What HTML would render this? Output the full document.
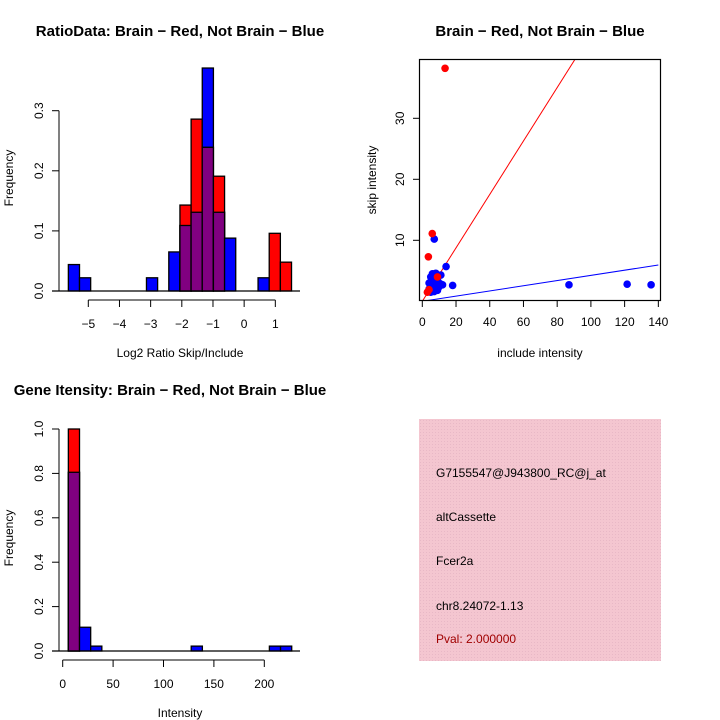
<!DOCTYPE html>
<html><head><meta charset="utf-8"><style>
body{margin:0;background:#fff}
svg{display:block;font-family:"Liberation Sans",sans-serif}
</style></head><body>
<svg id="c" width="720" height="720" viewBox="0 0 720 720">
<defs>
<pattern id="hatch" width="3" height="3" patternUnits="userSpaceOnUse">
<rect width="3" height="3" fill="#f4c6d0"/><rect width="1" height="1" fill="#e8b8c6"/>
</pattern>
</defs>
<g id="g1"></g>
<g id="g2"></g>
<g id="g3"></g>
<g>
<rect x="419" y="419" width="242" height="242" fill="url(#hatch)"/>
<text x="436" y="477" font-size="12">G7155547@J943800_RC@j_at</text>
<text x="436" y="521" font-size="12">altCassette</text>
<text x="436" y="565" font-size="12">Fcer2a</text>
<text x="436" y="610" font-size="12">chr8.24072-1.13</text>
<text x="436" y="643" font-size="12" fill="#a00000">Pval: 2.000000</text>
</g>
</svg>
<script>
// ---- chart 1 data
const ratioBinStart = -5.64, ratioBinWidth = 0.358;
const ratioBlue = [0.044,0.022,0,0,0,0,0,0.022,0,0.065,0.109,0.131,0.371,0.131,0.088,0,0,0.022,0,0];
const ratioRed  = [0,0,0,0,0,0,0,0,0,0,0.143,0.286,0.239,0.191,0,0,0,0,0.096,0.048];
const ratioXTicks = [-5,-4,-3,-2,-1,0,1];
const ratioYTicks = [0,0.1,0.2,0.3];
// ---- chart 2 data
const redPts = [[13.5,38.2],[5.9,11.1],[3.6,7.3],[3,1.5],[4,1.9],[9,4]];
const bluePts = [[7.1,10.2],[14.1,5.7],[18,2.6],[87,2.7],[121.5,2.8],[135.7,2.7],
 [4,2],[5,3],[5,4],[6,4.5],[6,3.5],[6,2],[7,2.5],[7,4],[8,3],[8,2],[9,3.5],[9,4.2],[10,3],[10,2.4],[11,4.3],[12,2.7],[5,1.5],[6,1.8],[7,1.6],[4,3],[9,1.8],[8,4.6],[7,3.2],[11,2.8]];
const redSlope = 0.438, blueSlope = 0.0425;
const scatXTicks = [0,20,40,60,80,100,120,140];
const scatYTicks = [10,20,30];
// ---- chart 3 data
const intBinStart = 5.6, intBinWidth = 11.08;
const intBlue = [0.805,0.107,0.022,0,0,0,0,0,0,0,0,0.022,0,0,0,0,0,0,0.022,0.022];
const intRed  = [1.0,0,0,0,0,0,0,0,0,0,0,0,0,0,0,0,0,0,0,0];
const intXTicks = [0,50,100,150,200];
const intYTicks = [0,0.2,0.4,0.6,0.8,1.0];

const NS="http://www.w3.org/2000/svg";
function mk(p,t,a,txt){const e=document.createElementNS(NS,t);for(const k in a)e.setAttribute(k,a[k]);if(txt!==undefined)e.textContent=txt;p.appendChild(e);return e;}

function hist(g,o){
  const xs=v=>o.x0+(v-o.xmin)*o.xk, ys=v=>o.base-v*o.yk;
  for(let i=0;i<o.blue.length;i++){
    const l=xs(o.bs+i*o.bw), r=xs(o.bs+(i+1)*o.bw), b=o.blue[i], rd=o.red[i];
    if(b>0){const e=mk(g,'rect',{x:l,y:ys(b),width:r-l,height:b*o.yk,fill:'#0000ff',stroke:'#000','stroke-width':1.3});
      
      }
    if(rd>0){const e=mk(g,'rect',{x:l,y:ys(rd),width:r-l,height:rd*o.yk,fill:'#ff0000',stroke:'#000','stroke-width':1.3});
      
      }
    const m=Math.min(b,rd);
    if(m>0){const e=mk(g,'rect',{x:l,y:ys(m),width:r-l,height:m*o.yk,fill:'#800080',stroke:'#000','stroke-width':1.3});
      
      }
  }
  mk(g,'line',{x1:52,x2:300,y1:o.base,y2:o.base,stroke:'#000','stroke-width':1.3});
  const xt=o.xt;
  mk(g,'line',{x1:xs(xt[0]),x2:xs(xt[xt.length-1]),y1:o.base+9,y2:o.base+9,stroke:'#000','stroke-width':1});
  xt.forEach(v=>{mk(g,'line',{x1:xs(v),x2:xs(v),y1:o.base+9,y2:o.base+16,stroke:'#000'});
    const t=mk(g,'text',{x:xs(v),y:o.base+37,'text-anchor':'middle','font-size':12},String(v).replace('-','\u2212'));
    
    });
  const yt=o.yt;
  mk(g,'line',{x1:59,x2:59,y1:ys(yt[0]),y2:ys(yt[yt.length-1]),stroke:'#000'});
  yt.forEach(v=>{mk(g,'line',{x1:52,x2:59,y1:ys(v),y2:ys(v),stroke:'#000'});
    const t=mk(g,'text',{x:0,y:0,'text-anchor':'middle','font-size':12,transform:`translate(43,${ys(v)}) rotate(-90)`},v.toFixed(1));
    
    });
}
const g1=document.getElementById('g1');
hist(g1,{x0:88.3,xmin:-5,xk:31.17,base:291,yk:601,bs:ratioBinStart,bw:ratioBinWidth,blue:ratioBlue,red:ratioRed,xt:ratioXTicks,yt:ratioYTicks});
const g3=document.getElementById('g3');
hist(g3,{x0:62.7,xmin:0,xk:1.008,base:651,yk:222,bs:intBinStart,bw:intBinWidth,blue:intBlue,red:intRed,xt:intXTicks,yt:intYTicks});

// scatter
const g2=document.getElementById('g2');
const sx=v=>422.3+v*1.686, sy=v=>301.3-v*6.1;
mk(g2,'defs',{}).innerHTML='<clipPath id="pc"><rect x="419.5" y="59.5" width="241" height="241"/></clipPath>';
const lines=mk(g2,'g',{'clip-path':'url(#pc)'});
let ln=mk(lines,'line',{x1:sx(0),y1:sy(0),x2:sx(140),y2:sy(140*redSlope),stroke:'#ff0000','stroke-width':1});


ln=mk(lines,'line',{x1:sx(0),y1:sy(0),x2:sx(140),y2:sy(140*blueSlope),stroke:'#0000ff','stroke-width':1});


bluePts.forEach(p=>{const c=mk(g2,'circle',{cx:sx(p[0]),cy:sy(p[1]),r:3.8,fill:'#0000ff'});
  
  });
redPts.forEach(p=>{const c=mk(g2,'circle',{cx:sx(p[0]),cy:sy(p[1]),r:3.8,fill:'#ff0000'});
  
  });
mk(g2,'rect',{x:419.5,y:59.5,width:241,height:241,fill:'none',stroke:'#000','stroke-width':1.2});
scatXTicks.forEach(v=>{mk(g2,'line',{x1:sx(v),x2:sx(v),y1:300.5,y2:307,stroke:'#000'});
  const t=mk(g2,'text',{x:sx(v),y:326,'text-anchor':'middle','font-size':12},String(v));
  
  });
scatYTicks.forEach(v=>{mk(g2,'line',{x1:413,x2:419.5,y1:sy(v),y2:sy(v),stroke:'#000'});
  const t=mk(g2,'text',{x:0,y:0,'text-anchor':'middle','font-size':12,transform:`translate(404,${sy(v)}) rotate(-90)`},String(v));
  
  });
</script>
<svg width="720" height="720" style="position:absolute;left:0;top:0;font-family:'Liberation Sans',sans-serif">
<text x="180" y="36" font-size="15" font-weight="bold" text-anchor="middle">RatioData: Brain − Red, Not Brain − Blue</text>
<text x="540" y="36" font-size="15" font-weight="bold" text-anchor="middle">Brain − Red, Not Brain − Blue</text>
<text x="170" y="395" font-size="15" font-weight="bold" text-anchor="middle">Gene Itensity: Brain − Red, Not Brain − Blue</text>
<text x="180" y="357" font-size="12" text-anchor="middle">Log2 Ratio Skip/Include</text>
<text x="540" y="357" font-size="12" text-anchor="middle">include intensity</text>
<text x="180" y="717" font-size="12" text-anchor="middle">Intensity</text>
<text transform="translate(13,178) rotate(-90)" font-size="12" text-anchor="middle">Frequency</text>
<text transform="translate(376,180) rotate(-90)" font-size="12" text-anchor="middle">skip intensity</text>
<text transform="translate(13,538) rotate(-90)" font-size="12" text-anchor="middle">Frequency</text>
</svg>
</body></html>
